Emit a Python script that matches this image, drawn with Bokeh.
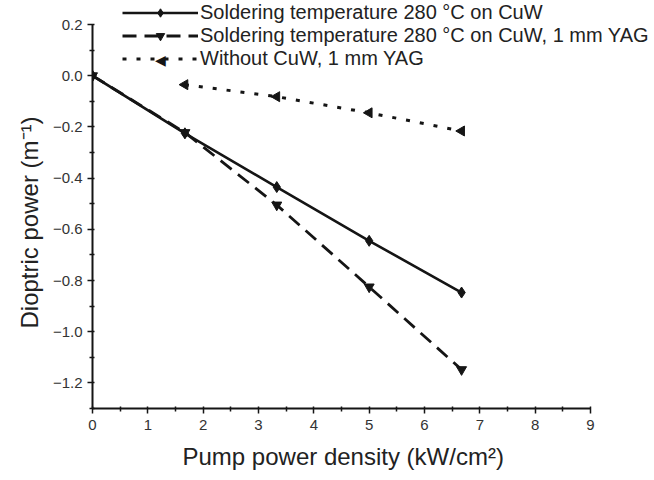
import math
from bokeh.plotting import figure
from bokeh.models import (FixedTicker, CustomJSTickFormatter, Legend, LegendItem, Range1d,
                          Title, Label)
from bokeh.embed import file_html
from bokeh.resources import INLINE

# Data
x_cuw = [0.0, 1.67, 3.33, 5.0, 6.67]
y_cuw = [0.0, -0.225, -0.435, -0.645, -0.847]

x_cuw_yag = [0.0, 1.67, 3.33, 5.0, 6.67]
y_cuw_yag = [0.0, -0.222, -0.505, -0.825, -1.148]

x_nocuw = [1.67, 3.33, 5.0, 6.67]
y_nocuw = [-0.035, -0.082, -0.145, -0.216]

labels = [
    "Soldering temperature 280 \u00b0C on CuW",
    "Soldering temperature 280 \u00b0C on CuW, 1 mm YAG",
    "Without CuW, 1 mm YAG",
]
x_title = "Pump power density (kW/cm\u00b2)"
y_title = "Dioptric power (m\u207b\u00b9)"
x_ticks = [0, 1, 2, 3, 4, 5, 6, 7, 8, 9]
y_ticks = [0.2, 0.0, -0.2, -0.4, -0.6, -0.8, -1.0, -1.2]
x_axis_span = (0, 9)
y_axis_span = (-1.3, 0.2)

FONT = "Liberation Sans"
INK = "#151515"

# frame extended to the window's top/right so the legend is not clipped;
# axis lines are bounded to the reference's span
px_per_x = 498 / 9.0
px_per_y = 384 / 1.5
x_max = x_axis_span[1] + 64 / px_per_x
y_max = y_axis_span[1] + 24 / px_per_y

p = figure(width=654, height=480, output_backend="svg", toolbar_location=None,
           x_range=Range1d(x_axis_span[0], x_max), y_range=Range1d(y_axis_span[0], y_max))
p.min_border_left = 92
p.min_border_right = 0
p.min_border_top = 0
p.min_border_bottom = 72
p.outline_line_color = None
p.xgrid.visible = False
p.ygrid.visible = False
p.background_fill_color = "white"
p.border_fill_color = "white"

r1l = p.line(x_cuw, y_cuw, line_color=INK, line_width=2.6)
r1m = p.scatter(x_cuw, y_cuw, marker="diamond", size=11, color=INK)

r2l = p.line(x_cuw_yag, y_cuw_yag, line_color=INK, line_width=2.8, line_dash="14 8")
r2m = p.scatter(x_cuw_yag, y_cuw_yag, marker="inverted_triangle", size=10, color=INK)

r3l = p.line(x_nocuw, y_nocuw, line_color=INK, line_width=3, line_dash="4 10")
r3m = p.scatter(x_nocuw, y_nocuw, marker="triangle", size=10, angle=math.pi / 2, color=INK)

legend_x, legend_y = 30, 338
glyph_w, row_h = 76, 21
legend = Legend(items=[
    LegendItem(label=labels[0], renderers=[r1l, r1m]),
    LegendItem(label=labels[1], renderers=[r2l, r2m]),
    LegendItem(label=labels[2], renderers=[r3l]),
], location=(legend_x, legend_y))
legend.label_text_font = FONT
legend.label_text_font_size = "20px"
legend.label_text_color = "#222222"
legend.glyph_width = glyph_w
legend.glyph_height = row_h
legend.label_height = row_h
legend.label_standoff = 2
legend.spacing = 0
legend.padding = 0
legend.margin = 0
legend.border_line_color = None
legend.background_fill_alpha = 0
p.add_layout(legend, "center")

# left-pointing triangle symbol for the third legend row (legend glyphs ignore marker angle)
p.add_layout(Label(x=legend_x + glyph_w / 2, y=legend_y + row_h / 2,
                   x_units="screen", y_units="screen", text="\u25c0",
                   text_font="DejaVu Sans", text_font_size="14px", text_color=INK,
                   text_align="center", text_baseline="middle"))

for ax in (p.xaxis[0], p.yaxis[0]):
    ax.axis_line_color = INK
    ax.axis_line_width = 2
    ax.major_tick_line_color = INK
    ax.minor_tick_line_color = INK
    ax.major_tick_line_width = 1.5
    ax.minor_tick_line_width = 1.5
    ax.major_tick_in = 2
    ax.major_tick_out = 5
    ax.minor_tick_in = 2
    ax.minor_tick_out = 3
    ax.major_label_text_font = FONT
    ax.major_label_text_font_size = "15px"
    ax.major_label_text_color = "#333333"

p.xaxis.bounds = x_axis_span
p.yaxis.bounds = y_axis_span
p.xaxis.ticker = FixedTicker(ticks=x_ticks, minor_ticks=[v + 0.5 for v in x_ticks[:-1]])
p.yaxis.ticker = FixedTicker(ticks=y_ticks, minor_ticks=[-1.3, -1.1, -0.9, -0.7, -0.5, -0.3, -0.1, 0.1])
p.yaxis.formatter = CustomJSTickFormatter(code="return tick.toFixed(1).replace('-', '\\u2212');")
p.xaxis.major_label_standoff = 6
p.yaxis.major_label_standoff = 5

# axis titles placed as Titles so they can be centred on the drawn axis span
p.add_layout(Title(text=x_title, align="left", offset=90, standoff=16,
                   text_font=FONT, text_font_size="24px", text_font_style="normal",
                   text_color="#222222"), "below")
p.add_layout(Title(text=y_title, align="left", offset=80, standoff=14,
                   text_font=FONT, text_font_size="24px", text_font_style="normal",
                   text_color="#222222"), "left")

open("out.html", "w").write(file_html(p, INLINE))
